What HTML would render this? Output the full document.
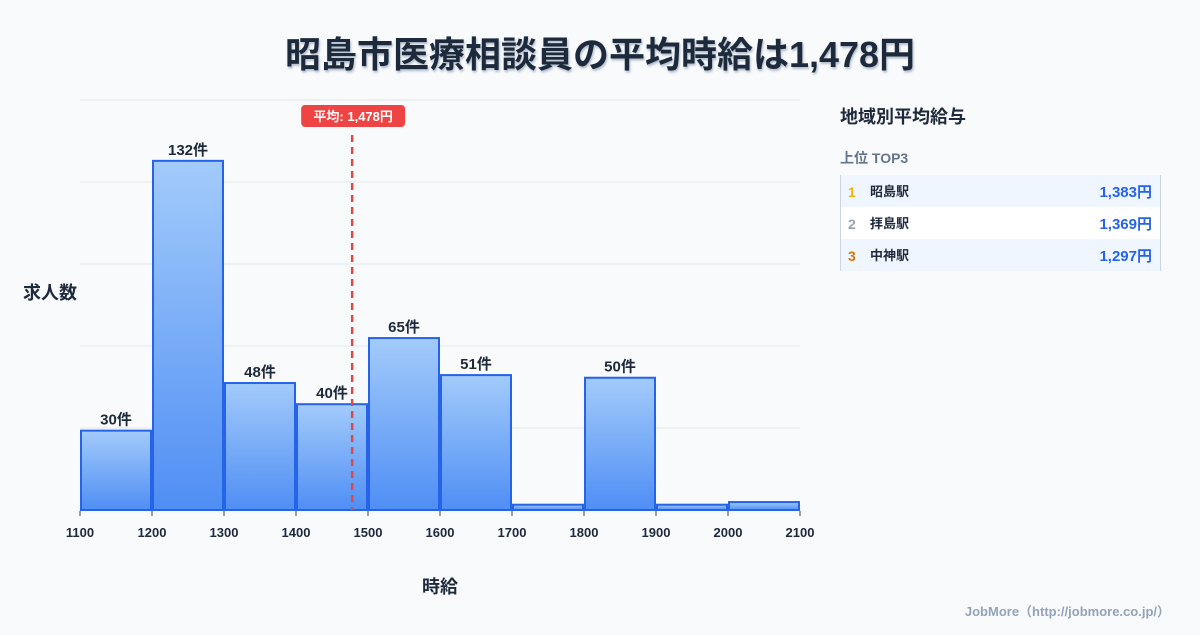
<!DOCTYPE html>
<html><head><meta charset="utf-8"><style>
body{margin:0;width:1200px;height:630px;background:#f8fafc;font-family:"Liberation Sans","Noto Sans CJK JP",sans-serif;overflow:hidden}
svg text{font-family:"Liberation Sans","Noto Sans CJK JP",sans-serif}
</style></head><body>
<svg width="1200" height="630">
<defs><linearGradient id="g" x1="0" y1="0" x2="0" y2="1"><stop offset="0" stop-color="#a3cbfb"/><stop offset="1" stop-color="#4f8ef4"/></linearGradient>
<filter id="sh"><feDropShadow dx="1" dy="2" stdDeviation="1" flood-color="#94a3b8" flood-opacity="0.7"/></filter></defs>
<text x="600" y="67" text-anchor="middle" font-size="36" font-weight="bold" fill="#1e293b" filter="url(#sh)">昭島市医療相談員の平均時給は1,478円</text>
<g id="grid"></g><g id="bars"></g><g id="xt"></g>
<text x="50" y="299" text-anchor="middle" font-size="18" font-weight="bold" fill="#1e293b">求人数</text>
<text x="440" y="593" text-anchor="middle" font-size="18" font-weight="bold" fill="#1e293b">時給</text>
<g id="mean"></g>
<text x="840" y="123" font-size="18" font-weight="bold" fill="#1e293b">地域別平均給与</text>
<text x="840" y="163" font-size="14" font-weight="bold" fill="#64748b">上位 TOP3</text>
<g id="rank"></g>
<text x="1170" y="616" text-anchor="end" font-size="13" font-weight="bold" fill="#94a3b8">JobMore（http://jobmore.co.jp/）</text>
</svg>
<script>
const bins=[1100,1200,1300,1400,1500,1600,1700,1800,1900,2000];
const counts=[30,132,48,40,65,51,2,50,2,3];
const showLabel=[true,true,true,true,true,true,false,true,false,false];
const xTicks=[1100,1200,1300,1400,1500,1600,1700,1800,1900,2000,2100];
const meanVal=1478;
const regions=["昭島駅","拝島駅","中神駅"];
const regionPay=[1383,1369,1297];
const NS="http://www.w3.org/2000/svg";
const X=v=>80+(v-1100)*0.72, Y=v=>510-v*410/155;
function mk(p,t,a){const e=document.createElementNS(NS,t);for(const k in a)e.setAttribute(k,a[k]);document.getElementById(p).appendChild(e);return e;}
for(let i=0;i<=5;i++){const y=510-i*82;const l=mk('grid','line',{x1:80,x2:800,y1:y,y2:y,stroke:'#e2e8f0'});

}
bins.forEach((b,i)=>{const x=X(b)+1,w=72-2,y=Y(counts[i]);
const r=mk('bars','rect',{x:x,y:y,width:w,height:510-y,fill:'url(#g)',stroke:'#2563eb','stroke-width':2});


if(showLabel[i]){const t=mk('bars','text',{x:x+w/2,y:y-6,'text-anchor':'middle','font-size':15,'font-weight':'bold',fill:'#1e293b'});t.textContent=counts[i]+'件';

}});
xTicks.forEach(v=>{const l=mk('xt','line',{x1:X(v),x2:X(v),y1:511,y2:516,stroke:'#334155'});


const t=mk('xt','text',{x:X(v),y:537,'text-anchor':'middle','font-size':13,'font-weight':'bold',fill:'#1e293b'});t.textContent=v;

});
const mx=X(meanVal);
const ml=mk('mean','line',{x1:mx,x2:mx,y1:135,y2:510,stroke:'#e04848','stroke-width':2.5,'stroke-dasharray':'7,5'});


const mb=mk('mean','rect',{x:mx-51,y:105,width:104,height:22,rx:4,fill:'#ef4444'});


const mt=mk('mean','text',{x:mx+1,y:121,'text-anchor':'middle','font-size':13,'font-weight':'bold',fill:'#fff'});mt.textContent='平均: '+meanVal.toLocaleString()+'円';


const rc=['#eab308','#94a3b8','#d97706'];
regions.forEach((n,i)=>{const y=175+i*32;
const r=mk('rank','rect',{x:840,y:y,width:320,height:32,fill:i==1?'#ffffff':'#eff6ff'});


const a=mk('rank','text',{x:848,y:y+22,'font-size':14,'font-weight':'bold',fill:rc[i]});a.textContent=i+1;


const b=mk('rank','text',{x:870,y:y+21,'font-size':13,'font-weight':'bold',fill:'#1e293b'});b.textContent=n;


const c=mk('rank','text',{x:1152,y:y+22,'text-anchor':'end','font-size':15,'font-weight':'bold',fill:'#2563eb'});c.textContent=regionPay[i].toLocaleString()+'円';

});
const bl=mk('rank','line',{x1:840.5,x2:840.5,y1:175,y2:271,stroke:'#cbd5e1'});


const br=mk('rank','line',{x1:1160.5,x2:1160.5,y1:175,y2:271,stroke:'#cbd5e1'});


</script>
</body></html>
